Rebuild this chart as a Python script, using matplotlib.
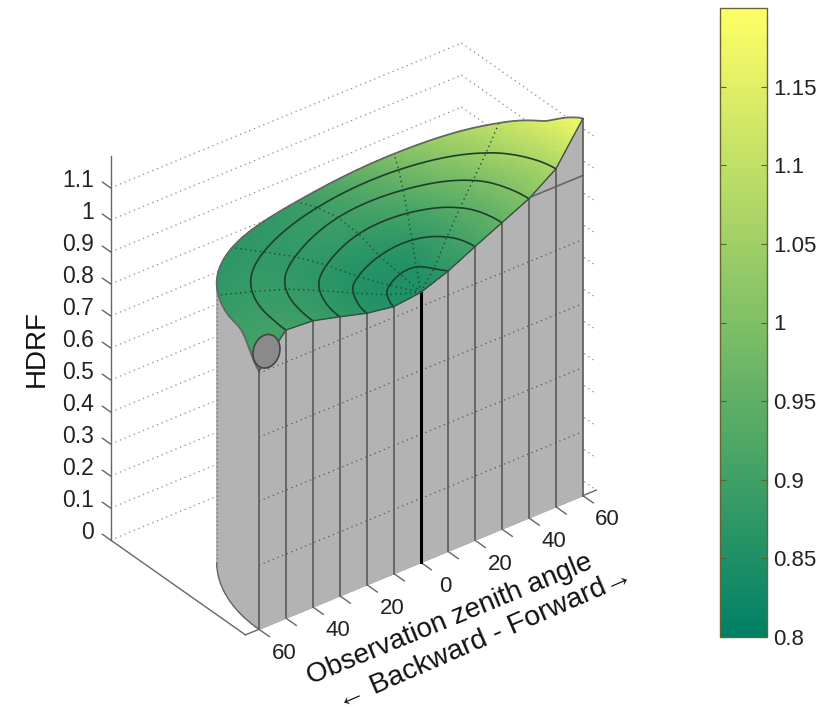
import numpy as np
import matplotlib
matplotlib.use('Agg')
import matplotlib.pyplot as plt
from matplotlib.colors import Normalize
from matplotlib.cm import ScalarMappable
from mpl_toolkits.mplot3d import proj3d
from mpl_toolkits.mplot3d.art3d import Poly3DCollection

plt.rcParams['font.family'] = ['Liberation Sans', 'DejaVu Sans']

# values
rings = [0, 10, 20, 30, 40, 50, 60]
azimuths = [0, 7, 15, 30, 60, 90, 120, 150, 165, 172, 180]
hdrf = [
    [.844, .844, .844, .844, .844, .844, .844, .844, .844, .844, .844],
    [.875, .872, .868, .8625, .869, .856, .84, .847, .838, .835, .834],
    [.917, .916, .915, .9125, .895, .865, .843, .861, .852, .849, .848],
    [.957, .956, .955, .953, .92, .89, .855, .875, .873, .872, .872],
    [.997, .995, .992, .9875, .934, .895, .858, .885, .892, .894, .894],
    [1.056, 1.05, 1.04, 1.02, .94, .875, .852, .884, .895, .90, .90],
    [1.18, 1.15, 1.105, 1.06, .93, .84, .848, .88, .894, .89, .80],
]
color_azimuths = [0, 30, 60, 90, 120, 150, 180]
color_vals = [
    [.85, .85, .85, .85, .85, .85, .85],
    [.875, .87, .855, .855, .85, .85, .85],
    [.915, .905, .875, .865, .855, .86, .865],
    [.96, .945, .91, .885, .87, .875, .88],
    [1.01, 1.0, .945, .895, .875, .885, .895],
    [1.075, 1.06, .975, .885, .875, .885, .905],
    [1.19, 1.11, 1.01, .875, .87, .875, .91],
]
zen_ticks = [-60, -40, -20, 0, 20, 40, 60]
zen_labels = ['60', '40', '20', '0', '20', '40', '60']
z_ticks = [0, .1, .2, .3, .4, .5, .6, .7, .8, .9, 1, 1.1]
z_labels = ['0', '0.1', '0.2', '0.3', '0.4', '0.5', '0.6', '0.7', '0.8', '0.9', '1', '1.1']
cb_ticks = [.8, .85, .9, .95, 1, 1.05, 1.1, 1.15]
cb_labels = ['0.8', '0.85', '0.9', '0.95', '1', '1.05', '1.1', '1.15']


def fill_grid(table, az, th, ph):
    # resample the read table on a fine polar grid, only for drawing
    table = np.array(table)
    step1 = np.array([np.interp(ph, az, row) for row in table])
    step2 = np.array([np.interp(th, rings, step1[:, j]) for j in range(len(ph))]).T
    return step2


def smooth(a, n):
    k = np.ones(n) / n
    p = np.pad(a, ((0, 0), (n // 2, n // 2)), mode='edge')
    return np.array([np.convolve(r, k, mode='valid') for r in p])


def soften(a, ph):
    # round the kinks of the table, but keep the sharp ends near the principal plane
    w = np.clip((ph - 15) / 15, 0, 1) * np.clip((168 - ph) / 15, 0, 1)
    return w * smooth(smooth(a, 25), 25) + (1 - w) * smooth(a, 5)


def label3d(x, y, z, s, **kw):
    # plain 2D text placed at the projected data point
    px, py, _ = proj3d.proj_transform(x, y, z, ax.get_proj())
    ax.text2D(px, py, s, va='center', color=txt, **kw)


th = np.arange(0, 61, 1.0)
ph = np.arange(0, 181, 1.0)
Z = soften(fill_grid(hdrf, azimuths, th, ph), ph)
C = soften(fill_grid(color_vals, color_azimuths, th, ph), ph)
T, P = np.meshgrid(th, ph, indexing='ij')
X = T * np.cos(np.radians(P))
Y = T * np.sin(np.radians(P))

W, H = 836, 714
fig = plt.figure(figsize=(W / 100, H / 100), dpi=100)
L = 653
ax = fig.add_axes([18.2 / W, 55.7 / H, L / W, L / H], projection='3d', computed_zorder=False)
ax.set_proj_type('ortho')
ax.view_init(elev=32.6, azim=-127.45)
ax.set_xlim(-65, 65)
ax.set_ylim(0, 65)
ax.set_zlim(0, 1.2)
ax.set_box_aspect((442, 221.6, 456))
ax.set_axis_off()

grey = '#b3b3b3'
axc = '#666666'
txt = '#222222'
dot = dict(color='#8a8a8a', lw=0.9, ls=(0, (1, 3)))

# grid behind the surface
for z in z_ticks:
    ax.plot([-65, 65], [65, 65], [z, z], zorder=1, **dot)
    ax.plot([65, 65], [65, 0], [z, z], zorder=1, **dot)

# axes and ticks
ax.plot([-65, 65], [0, 0], [0, 0], color=axc, lw=1, zorder=2)
ax.plot([-65, -65], [0, 65], [0, 0], color=axc, lw=1, zorder=2)
ax.plot([-65, -65], [65, 65], [0, 1.2], color=axc, lw=1, zorder=2)
for z, lab in zip(z_ticks, z_labels):
    ax.plot([-65, -65], [65, 69], [z, z], color=axc, lw=1, zorder=2)
    label3d(-65, 73, z - .012, lab, ha='right', fontsize=16.5)
for x in range(-60, 61, 10):
    ax.plot([x, x], [0, -5], [0, 0], color=axc, lw=1, zorder=2)
for x, lab in zip(zen_ticks, zen_labels):
    label3d(x, -12, -.02, lab, ha='center', fontsize=16)

# curtain along the principal plane and the rim
front_x = np.arange(-60, 61, 1.0)
front_z = np.array([np.interp(abs(v), th, Z[:, 0 if v >= 0 else -1]) for v in front_x])
ax.plot_surface(np.array([front_x, front_x]), np.zeros((2, front_x.size)),
                np.array([0 * front_z, front_z]), color=grey, shade=False,
                linewidth=0, antialiased=False, zorder=3)
rim = ph >= 142.4
rx, ry, rz = X[-1, rim], Y[-1, rim], Z[-1, rim]
ax.plot_surface(np.array([rx, rx]), np.array([ry, ry]), np.array([0 * rz, rz]), color=grey,
                shade=False, linewidth=0, antialiased=False, zorder=3)
ax.plot(rx, ry, 0 * rz, color=axc, lw=1, zorder=4)
ax.plot([rx[0], rx[0]], [ry[0], ry[0]], [0, rz[0]], color='#777777', lw=1, ls=(0, (1, 2)), zorder=4)

for x in range(-60, 61, 10):
    top = front_z[x + 60]
    if x == 0:
        ax.plot([x, x], [0, 0], [0, top], color='black', lw=2.2, zorder=5)
    else:
        ax.plot([x, x], [0, 0], [0, top], color='#5a5a5a', lw=1.2, zorder=5)
for z in [.2, .4, .6, .8]:
    ax.plot([-60, 60], [0, 0], [z, z], color='#555555', lw=0.9, ls=(0, (1, 3)), zorder=4)
ax.plot([40, 60], [0, 0], [1, 1], color='#666666', lw=1.2, zorder=4)

# surface
norm = Normalize(.8, 1.2)
ax.plot_surface(X, Y, Z, facecolors=plt.cm.summer(norm(C)), rstride=1, cstride=1, shade=False,
                linewidth=0, antialiased=False, zorder=6)
for i in [10, 20, 30, 40, 50]:
    ax.plot(X[i], Y[i], Z[i], color='#1d3f2d', lw=1.2, zorder=7)
for a in [30, 60, 90, 120, 150]:
    ax.plot(X[:, a], Y[:, a], Z[:, a], color='#1d4a35', lw=1, ls=(0, (1, 2.5)), zorder=7)
ax.plot(X[-1], Y[-1], Z[-1], color='#666666', lw=1.3, zorder=8)
ax.plot(front_x, 0 * front_x, front_z, color='#33503f', lw=1, zorder=8)

# hot spot
t = np.linspace(0, 2 * np.pi, 60)
spot_x = -57.4 + 5 * np.cos(t)
spot_z = .861 + .052 * np.sin(t) - .01 * np.cos(t)
ax.add_collection3d(Poly3DCollection([list(zip(spot_x, 0 * t, spot_z))], facecolor='#8a8a8a',
                                     edgecolor='#444444', linewidth=1.2, zorder=9))

fig.text(37 / W, 1 - 349 / H, 'HDRF', rotation=90, ha='center', va='center', fontsize=20, color='#111111')
fig.text(450 / W, 1 - 620 / H, 'Observation zenith angle', rotation=22.4, ha='center', va='center',
         fontsize=20, color='#111111', rotation_mode='anchor')
fig.text(485 / W, 1 - 639 / H, '\u2190 Backward - Forward\u2192', rotation=23.5, ha='center', va='center',
         fontsize=20.5, color='#111111', rotation_mode='anchor')

# colorbar
cax = fig.add_axes([720 / W, 1 - 637 / H, 47 / W, 629 / H])
cb = fig.colorbar(ScalarMappable(norm=norm, cmap='summer'), cax=cax)
cb.set_ticks(cb_ticks, labels=cb_labels)
cb.ax.tick_params(direction='in', length=4.3, width=0.8, left=True, right=True, labelsize=16, pad=4.3,
                  color='#55662f', labelcolor=txt)
cb.outline.set_edgecolor('#666633')
cb.outline.set_linewidth(1)

fig.savefig('out.png', dpi=100)
